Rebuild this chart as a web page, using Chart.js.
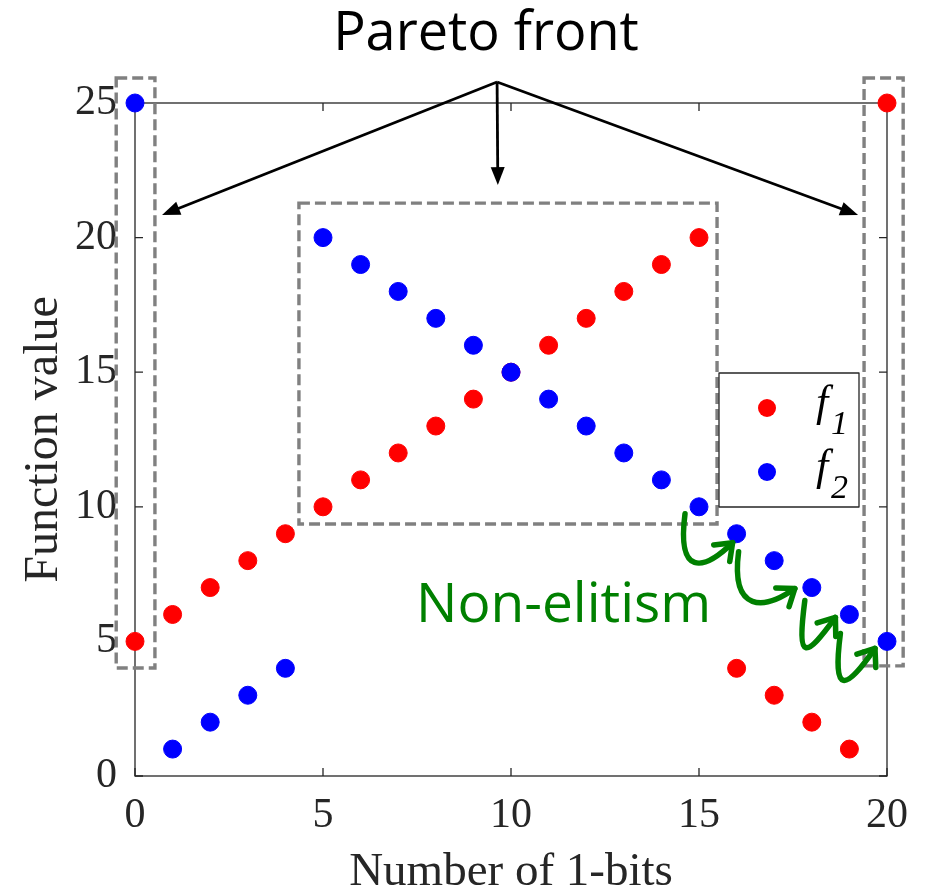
<!DOCTYPE html>
<html lang="en">
<head>
<meta charset="UTF-8">
<title>Pareto front and non-elitism</title>
<style>
body {margin:0; background:#fff;}
canvas {display:block;}
</style>
</head>
<body>
<canvas id="chart" width="926" height="891"></canvas>
<script src="https://cdn.jsdelivr.net/npm/chart.js"></script>
<script>
// data
const bits = [0,1,2,3,4,5,6,7,8,9,10,11,12,13,14,15,16,17,18,19,20];
const f1 = [5,6,7,8,9,10,11,12,13,14,15,16,17,18,19,20,4,3,2,1,25];
const f2 = [25,1,2,3,4,20,19,18,17,16,15,14,13,12,11,10,9,8,7,6,5];
const xTicks = [0,5,10,15,20];
const yTicks = [0,5,10,15,20,25];

const AX = '#262626';
const SERIF = '"Liberation Serif", "Times New Roman", serif';
const SANS = '"Open Sans", "Noto Sans", sans-serif';

// dashed boxes in data units: [x0, y0, x1, y1]
const boxes = [[-0.5,25.93,0.53,4.01],[4.36,21.28,15.48,9.36],[19.39,25.93,20.43,4.09]];
// green hooks between f2 points: from index, to index, pixel offsets of start and tip
const hooks = [
  {from:15, to:16, s:[-14,7], t:[-4,9]},
  {from:16, to:18, s:[2,18], t:[-17,1]},
  {from:18, to:19, s:[-7,13], t:[-14,3]},
  {from:19, to:20, s:[-9,19], t:[-12,7]}
];

function pts(ys){ return bits.map((x,i)=>({x:x, y:ys[i]})); }

const frame = {
  id:'frame',
  beforeDatasetsDraw(chart){
    const {ctx, chartArea:a, scales:{x, y}} = chart;
    ctx.save();
    ctx.strokeStyle = AX; ctx.lineWidth = 1.3;
    ctx.strokeRect(a.left, a.top, a.right-a.left, a.bottom-a.top);
    ctx.beginPath();
    xTicks.forEach(v=>{
      const px = x.getPixelForValue(v);
      ctx.moveTo(px, a.bottom); ctx.lineTo(px, a.bottom-8);
      ctx.moveTo(px, a.top); ctx.lineTo(px, a.top+8);
    });
    yTicks.forEach(v=>{
      const py = y.getPixelForValue(v);
      ctx.moveTo(a.left, py); ctx.lineTo(a.left+8, py);
      ctx.moveTo(a.right, py); ctx.lineTo(a.right-8, py);
    });
    ctx.stroke();
    ctx.restore();
  }
};

function arrowHead(ctx, tx, ty, ang, len, half){
  ctx.beginPath();
  ctx.moveTo(tx, ty);
  ctx.lineTo(tx - len*Math.cos(ang) + half*Math.sin(ang), ty - len*Math.sin(ang) - half*Math.cos(ang));
  ctx.lineTo(tx - len*Math.cos(ang) - half*Math.sin(ang), ty - len*Math.sin(ang) + half*Math.cos(ang));
  ctx.closePath();
  ctx.fill();
}

const notes = {
  id:'notes',
  afterDatasetsDraw(chart){
    const {ctx, scales:{x, y}} = chart;
    const P = (a,b)=>[x.getPixelForValue(a), y.getPixelForValue(b)];
    ctx.save();

    // dashed boxes
    ctx.strokeStyle = '#808080'; ctx.lineWidth = 3.4; ctx.setLineDash([11,5]);
    boxes.forEach(b=>{
      const [x0,y0] = P(b[0],b[1]), [x1,y1] = P(b[2],b[3]);
      ctx.strokeRect(x0, y0, x1-x0, y1-y0);
    });
    ctx.setLineDash([]);

    // black arrows from the label
    const apex = P(9.63, 25.78);
    const tips = [P(0.72,20.84), P(9.65,21.95), P(19.23,20.84)];
    ctx.strokeStyle = '#000'; ctx.fillStyle = '#000'; ctx.lineWidth = 2.8;
    tips.forEach(t=>{
      const ang = Math.atan2(t[1]-apex[1], t[0]-apex[0]);
      ctx.beginPath();
      ctx.moveTo(apex[0], apex[1]);
      ctx.lineTo(t[0]-10*Math.cos(ang), t[1]-10*Math.sin(ang));
      ctx.stroke();
      arrowHead(ctx, t[0], t[1], ang, 18, 7);
    });

    ctx.fillStyle = '#000';
    ctx.font = '54px ' + SANS;
    ctx.textAlign = 'center'; ctx.textBaseline = 'alphabetic';
    ctx.fillText('Pareto front', 486, 50);

    // non-elitism
    ctx.fillStyle = '#008000';
    ctx.font = '55px ' + SANS;
    ctx.textAlign = 'left';
    ctx.fillText('Non-elitism', 416, 622);

    ctx.strokeStyle = '#008000'; ctx.lineWidth = 5.5; ctx.lineCap = 'round'; ctx.lineJoin = 'round';
    hooks.forEach(h=>{
      const ps = P(bits[h.from], f2[h.from]), pt = P(bits[h.to], f2[h.to]);
      const sx = ps[0]+h.s[0], sy = ps[1]+h.s[1];
      const tx = pt[0]+h.t[0], ty = pt[1]+h.t[1];
      const Y = sy + 62;
      const c2x = tx - 30, c2y = Y - 4;
      ctx.beginPath();
      ctx.moveTo(sx, sy);
      ctx.bezierCurveTo(sx-8, Y, c2x, c2y, tx, ty);
      ctx.stroke();
      const ang = Math.atan2(ty-c2y, tx-c2x);
      ctx.beginPath();
      ctx.moveTo(tx - 19*Math.cos(ang-0.65), ty - 19*Math.sin(ang-0.65));
      ctx.lineTo(tx, ty);
      ctx.lineTo(tx - 19*Math.cos(ang+0.65), ty - 19*Math.sin(ang+0.65));
      ctx.stroke();
    });

    // legend
    ctx.fillStyle = '#fff';
    ctx.fillRect(719, 373, 140, 134);
    ctx.strokeStyle = AX; ctx.lineWidth = 1.3;
    ctx.strokeRect(719, 373, 140, 134);
    [[chart.data.datasets[1], 408, '1'], [chart.data.datasets[0], 472, '2']].forEach(([ds, cy, sub])=>{
      ctx.fillStyle = ds.backgroundColor;
      ctx.beginPath(); ctx.arc(767, cy, 9, 0, Math.PI*2); ctx.fill();
      ctx.fillStyle = '#000';
      ctx.font = 'italic 44px ' + SERIF;
      ctx.fillText('f', 816, cy+8);
      ctx.font = 'italic 34px ' + SERIF;
      ctx.fillText(sub, 831, cy+26);
    });
    ctx.restore();
  }
};

new Chart(document.getElementById('chart'), {
  type:'scatter',
  data:{datasets:[
    {label:'f2', data:pts(f2), backgroundColor:'#0000ff', borderColor:'#0000ff', pointRadius:9, pointHoverRadius:9, order:0, clip:false},
    {label:'f1', data:pts(f1), backgroundColor:'#ff0000', borderColor:'#ff0000', pointRadius:9, pointHoverRadius:9, order:1, clip:false}
  ]},
  options:{
    responsive:false,
    animation:false,
    layout:{padding:{top:103, right:39, left:0, bottom:0}},
    plugins:{legend:{display:false}, tooltip:{enabled:false}},
    scales:{
      x:{
        type:'linear', min:0, max:20,
        afterBuildTicks:s=>{ s.ticks = xTicks.map(v=>({value:v})); },
        afterFit:s=>{ s.height = 115; },
        grid:{display:false, drawTicks:false},
        border:{display:false},
        ticks:{color:AX, padding:15, font:{family:SERIF, size:42}},
        title:{display:true, text:'Number of 1-bits', color:AX, padding:0, font:{family:SERIF, size:47, lineHeight:0.8}}
      },
      y:{
        type:'linear', min:0, max:25,
        afterBuildTicks:s=>{ s.ticks = yTicks.map(v=>({value:v})); },
        afterFit:s=>{ s.width = 135; },
        grid:{display:false, drawTicks:false},
        border:{display:false},
        ticks:{color:AX, padding:18, font:{family:SERIF, size:42}},
        title:{display:true, text:'Function value', color:AX, padding:16, font:{family:SERIF, size:48}}
      }
    }
  },
  plugins:[frame, notes]
});
</script>
</body>
</html>
